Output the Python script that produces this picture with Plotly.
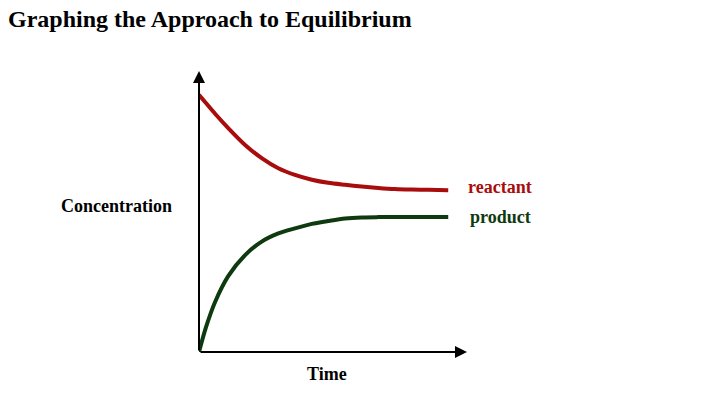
import plotly.graph_objects as go

# Data (arbitrary units)
time = [0, 0.25, 0.6, 1.09, 1.72, 2.34, 2.96, 3.58, 4.21, 4.82, 5.45, 6.07, 6.69, 7.31, 7.94, 8.56, 9.3]
reactant = [9.15, 8.87, 8.48, 7.97, 7.37, 6.90, 6.54, 6.30, 6.13, 6.02, 5.95, 5.89, 5.84, 5.80, 5.78, 5.77, 5.76]
product = [0.0, 0.85, 1.78, 2.70, 3.45, 3.93, 4.22, 4.40, 4.56, 4.66, 4.75, 4.79, 4.80, 4.80, 4.80, 4.80, 4.80]
series_names = ["reactant", "product"]
title_text = "Graphing the Approach to Equilibrium"
x_label = "Time"
y_label = "Concentration"

RED = "#A80C0C"
GREEN = "#0F3A10"
SERIF = "Times New Roman, Liberation Serif, serif"

W, H = 720, 405

def px(x):
    return x / W

def py(y):
    return 1 - y / H

fig = go.Figure()
fig.add_trace(go.Scatter(x=time, y=reactant, mode="lines",
                         line=dict(color=RED, width=4, shape="spline", smoothing=0.8),
                         name=series_names[0], showlegend=False, hoverinfo="skip"))
fig.add_trace(go.Scatter(x=time, y=product, mode="lines",
                         line=dict(color=GREEN, width=4, shape="spline", smoothing=0.8),
                         name=series_names[1], showlegend=False, hoverinfo="skip"))

# axis arrows
fig.add_annotation(x=0, y=10, ax=0, ay=0, xref="x", yref="y", axref="x", ayref="y",
                   showarrow=True, arrowhead=2, arrowsize=1.2, arrowwidth=2, arrowcolor="black", text="")
fig.add_annotation(x=10, y=0, ax=0, ay=0, xref="x", yref="y", axref="x", ayref="y",
                   showarrow=True, arrowhead=2, arrowsize=1.2, arrowwidth=2, arrowcolor="black", text="")

# end labels
fig.add_annotation(x=time[-1], y=reactant[-1], xref="x", yref="y", text="<b>" + series_names[0] + "</b>",
                   showarrow=False, xanchor="left", xshift=18, yshift=3,
                   font=dict(family=SERIF, size=18, color=RED))
fig.add_annotation(x=time[-1], y=product[-1], xref="x", yref="y", text="<b>" + series_names[1] + "</b>",
                   showarrow=False, xanchor="left", xshift=20, yshift=0,
                   font=dict(family=SERIF, size=18, color=GREEN))

# axis labels
fig.add_annotation(x=px(116), y=py(206), xref="paper", yref="paper", text="<b>" + y_label + "</b>",
                   showarrow=False, xanchor="center", yanchor="middle",
                   font=dict(family=SERIF, size=18, color="black"))
fig.add_annotation(x=px(327), y=py(374), xref="paper", yref="paper", text="<b>" + x_label + "</b>",
                   showarrow=False, xanchor="center", yanchor="middle",
                   font=dict(family=SERIF, size=18, color="black"))

# title
fig.add_annotation(x=px(6), y=py(19), xref="paper", yref="paper", text="<b>" + title_text + "</b>",
                   showarrow=False, xanchor="left", yanchor="middle",
                   font=dict(family=SERIF, size=24, color="black"))

fig.update_layout(
    width=W, height=H,
    margin=dict(l=0, r=0, t=0, b=0),
    paper_bgcolor="white", plot_bgcolor="white",
    xaxis=dict(domain=[px(199), px(467)], range=[0, 10], showgrid=False, zeroline=False,
               showticklabels=False, ticks="", showline=False, fixedrange=True),
    yaxis=dict(domain=[py(352), py(71)], range=[0, 10], showgrid=False, zeroline=False,
               showticklabels=False, ticks="", showline=False, fixedrange=True),
)

fig.write_html("out.html", config={"displayModeBar": False},
               post_script="document.body.style.margin='0';")
